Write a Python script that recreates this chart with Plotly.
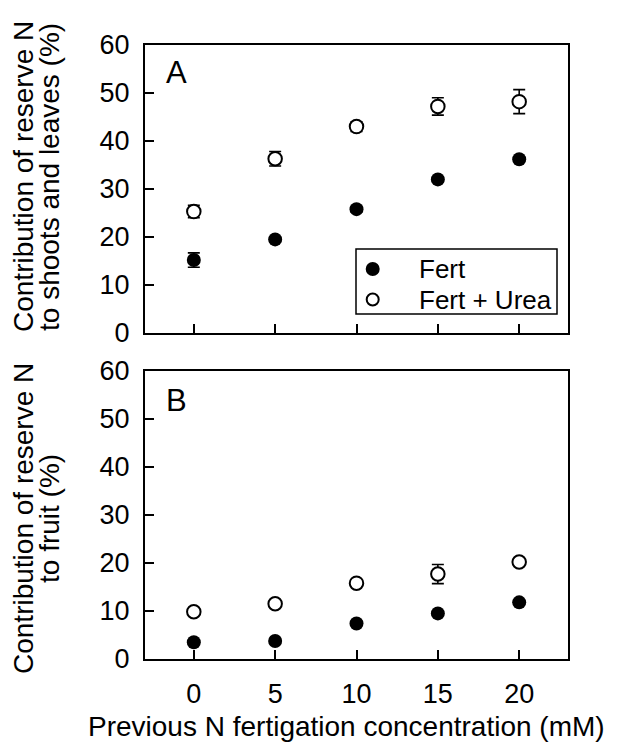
import plotly.graph_objects as go

x_conc = [0, 5, 10, 15, 20]
x_ticks = [0, 5, 10, 15, 20]
y_ticks = [0, 10, 20, 30, 40, 50, 60]

# Panel A: shoots and leaves
a_fert = [15.2, 19.5, 25.8, 32.0, 36.2]
a_fert_err = [1.5, 0.5, 0.6, 0.5, 0.4]
a_urea = [25.3, 36.3, 43.0, 47.2, 48.2]
a_urea_err = [1.3, 1.5, 1.0, 1.8, 2.5]

# Panel B: fruit
b_fert = [3.5, 3.75, 7.4, 9.5, 11.8]
b_fert_err = [0.4, 0.4, 0.4, 0.4, 0.4]
b_urea = [9.85, 11.5, 15.8, 17.7, 20.2]
b_urea_err = [0.5, 0.4, 0.4, 2.0, 0.5]

series_names = ["Fert", "Fert + Urea"]

FONT = "Liberation Sans, Arial, sans-serif"
W, H = 627, 745
L, R, T, B = 145, 59, 45, 86
PW = W - L - R
PH = H - T - B


def px_x(px):
    return (px - L) / PW


def px_y(py):
    return (H - B - py) / PH


fig = go.Figure()


def add_series(x, y, err, filled, name, xa, ya):
    fig.add_trace(go.Scatter(
        x=x, y=y, mode="markers", xaxis=xa, yaxis=ya,
        marker=dict(size=1, opacity=0),
        error_y=dict(type="data", array=err, visible=True, color="black",
                     thickness=1.6, width=6),
        showlegend=False, hoverinfo="skip"))
    fig.add_trace(go.Scatter(
        x=x, y=y, mode="markers", xaxis=xa, yaxis=ya, name=name,
        marker=dict(size=14 if filled else 13.5, symbol="circle",
                    color="black" if filled else "white",
                    line=dict(color="black", width=0 if filled else 2)),
        showlegend=False))


add_series(x_conc, a_fert, a_fert_err, True, series_names[0], "x", "y")
add_series(x_conc, a_urea, a_urea_err, False, series_names[1], "x", "y")
add_series(x_conc, b_fert, b_fert_err, True, series_names[0], "x2", "y2")
add_series(x_conc, b_urea, b_urea_err, False, series_names[1], "x2", "y2")

axis_common = dict(showline=True, linecolor="black", linewidth=2, mirror=True,
                   ticks="inside", ticklen=9, tickwidth=2, tickcolor="black",
                   showgrid=False, zeroline=False,
                   tickfont=dict(family=FONT, size=27, color="black"))

top_dom = [px_y(333), 1.0]
bot_dom = [0.0, px_y(371)]

fig.update_layout(
    width=W, height=H,
    margin=dict(l=L, r=R, t=T, b=B),
    paper_bgcolor="white", plot_bgcolor="white",
    font=dict(family=FONT, size=26, color="black"),
    xaxis=dict(domain=[0, 1], range=[-3, 23], tickvals=x_ticks,
               showticklabels=False, anchor="y", **axis_common),
    yaxis=dict(domain=top_dom, range=[0, 60], tickvals=y_ticks,
               anchor="x", ticklabelstandoff=8, **axis_common),
    xaxis2=dict(domain=[0, 1], range=[-3, 23], tickvals=x_ticks,
                anchor="y2", ticklabelstandoff=10, **axis_common),
    yaxis2=dict(domain=bot_dom, range=[0, 60], tickvals=y_ticks,
                anchor="x2", ticklabelstandoff=8, **axis_common),
    showlegend=False,
)

# Manual legend (box, symbols, labels) inside panel A
fig.add_shape(type="rect", xref="paper", yref="paper",
              x0=px_x(356), x1=px_x(557), y0=px_y(314), y1=px_y(249),
              line=dict(color="black", width=1.5), fillcolor="rgba(0,0,0,0)")
leg_rows = [269, 299.5]
for i, (name, ry) in enumerate(zip(series_names, leg_rows)):
    filled = i == 0
    r = 7 if filled else 6
    fig.add_shape(type="circle", xref="paper", yref="paper",
                  xsizemode="pixel", ysizemode="pixel",
                  xanchor=px_x(372.7), yanchor=px_y(ry),
                  x0=-r, x1=r, y0=-r, y1=r,
                  fillcolor="black" if filled else "white",
                  line=dict(color="black", width=0 if filled else 2))
    fig.add_annotation(text=name, xref="paper", yref="paper",
                       x=px_x(417), y=px_y(ry), xanchor="left",
                       yanchor="middle", showarrow=False,
                       font=dict(family=FONT, size=26, color="black"))

ann_font = dict(family=FONT, size=28, color="black")
annotations = [
    dict(text="Contribution of reserve N", x=px_x(23), y=px_y(177)),
    dict(text="to shoots and leaves (%)", x=px_x(49), y=px_y(177)),
    dict(text="Contribution of reserve N", x=px_x(23), y=px_y(519)),
    dict(text="to fruit (%)", x=px_x(49), y=px_y(519)),
]
for a in annotations:
    fig.add_annotation(xref="paper", yref="paper", textangle=-90,
                       xanchor="center", yanchor="middle", showarrow=False,
                       font=ann_font, **a)

fig.add_annotation(text="Previous N fertigation concentration (mM)",
                   xref="paper", yref="paper", x=px_x(346), y=px_y(726),
                   xanchor="center", yanchor="middle", showarrow=False,
                   font=dict(family=FONT, size=28, color="black"))
fig.add_annotation(text="A", xref="paper", yref="paper", x=px_x(176.5),
                   y=px_y(72), xanchor="center", yanchor="middle",
                   showarrow=False, font=dict(family=FONT, size=31, color="black"))
fig.add_annotation(text="B", xref="paper", yref="paper", x=px_x(176),
                   y=px_y(400.5), xanchor="center", yanchor="middle",
                   showarrow=False, font=dict(family=FONT, size=31, color="black"))

fig.write_html("out.html")
